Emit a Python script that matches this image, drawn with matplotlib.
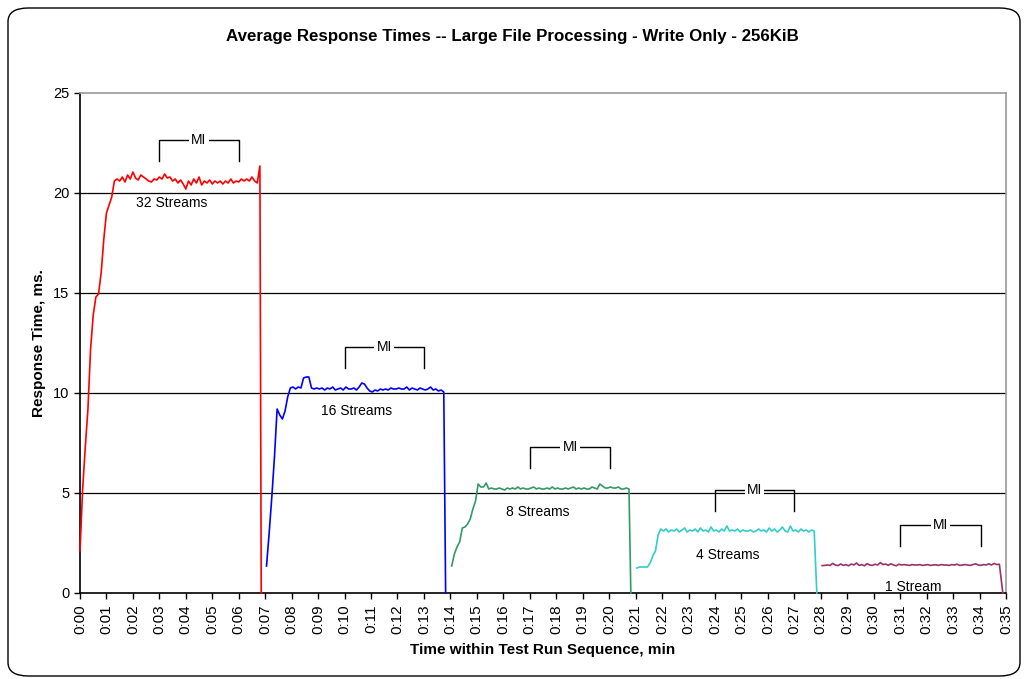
#!/usr/bin/env python3
# Average response times, large file processing, write only, 256KiB.
# Five load levels, each sampled every 0.1 min, dropping to 0 at the end.

import matplotlib

matplotlib.use("Agg")
import matplotlib.pyplot as plt
import numpy as np
from matplotlib.patches import FancyBboxPatch

plt.rcParams["font.family"] = ["Liberation Sans", "DejaVu Sans"]

STEP_MIN = 0.1

# 32 streams
RED_START = 0.0
RED_END = 6.85
RED_VALUES = [
    2.1, 5.2, 7.3, 9.2, 12.2, 13.9, 14.8, 14.95, 16.0, 17.7, 19.0, 19.4, 19.8, 20.6,
    20.7, 20.6, 20.8, 20.55, 20.9, 20.7, 21.05, 20.75, 20.65, 20.9, 20.8, 20.7, 20.6,
    20.55, 20.7, 20.65, 20.8, 20.7, 20.95, 20.75, 20.8, 20.6, 20.7, 20.5, 20.65, 20.45,
    20.2, 20.6, 20.4, 20.7, 20.5, 20.8, 20.4, 20.6, 20.5, 20.65, 20.45, 20.6, 20.5,
    20.6, 20.45, 20.6, 20.5, 20.7, 20.5, 20.6, 20.55, 20.7, 20.6, 20.7, 20.6, 20.8,
    20.6, 20.5, 21.35,
]

# 16 streams
BLUE_START = 7.05
BLUE_END = 13.82
BLUE_VALUES = [
    1.35, 3.0, 4.8, 6.8, 9.2, 8.9, 8.7, 9.1, 9.8, 10.25, 10.3, 10.2, 10.3, 10.25,
    10.75, 10.8, 10.8, 10.25,
    10.2, 10.25, 10.2, 10.25, 10.15, 10.25, 10.2, 10.3, 10.15, 10.2, 10.25, 10.15,
    10.3, 10.2, 10.2, 10.25, 10.15, 10.3, 10.5, 10.45, 10.25, 10.1, 10.05, 10.15,
    10.1, 10.2, 10.15, 10.2, 10.15, 10.25, 10.2, 10.2, 10.25, 10.2, 10.2, 10.3,
    10.15, 10.25, 10.2, 10.15, 10.25, 10.2, 10.15, 10.2, 10.3, 10.15, 10.2, 10.1,
    10.15, 10.05,
]

# 8 streams
GREEN_START = 14.05
GREEN_END = 20.82
GREEN_VALUES = [
    1.35, 1.95, 2.3, 2.55, 3.25, 3.3, 3.45, 3.7, 4.2, 4.6, 5.45, 5.3, 5.3, 5.5, 5.2,
    5.25, 5.2, 5.2, 5.25, 5.2, 5.15, 5.25, 5.2, 5.25, 5.2, 5.3, 5.2, 5.25, 5.2, 5.2,
    5.25, 5.3, 5.2, 5.25, 5.2, 5.2, 5.25, 5.2, 5.3, 5.2, 5.25, 5.2, 5.2, 5.25, 5.2,
    5.25, 5.3, 5.2, 5.25, 5.2, 5.25, 5.2, 5.2, 5.3, 5.25, 5.2, 5.45, 5.35, 5.25,
    5.25, 5.3, 5.25, 5.25, 5.3, 5.2, 5.2, 5.25, 5.2,
]

# 4 streams
CYAN_START = 21.05
CYAN_END = 27.85
CYAN_VALUES = [
    1.25, 1.3, 1.3, 1.3, 1.3, 1.5, 1.85, 2.1, 2.9, 3.2,
    3.1, 3.2, 3.05, 3.15, 3.1, 3.2, 3.05, 3.15, 3.25, 3.05, 3.15, 3.1, 3.2, 3.05,
    3.25, 3.1, 3.15, 3.05, 3.3, 3.1, 3.15, 3.05, 3.2, 3.1, 3.35, 3.1, 3.15, 3.1,
    3.2, 3.05, 3.15, 3.1, 3.1, 3.15, 3.05, 3.1, 3.2, 3.1, 3.15, 3.05, 3.25, 3.1,
    3.2, 3.05, 3.15, 3.3, 3.1, 3.05, 3.35, 3.1, 3.15, 3.05, 3.2, 3.1, 3.15, 3.05,
    3.15, 3.1,
]

# 1 stream
PURPLE_START = 28.05
PURPLE_END = 34.88
PURPLE_VALUES = [
    1.37, 1.38, 1.4, 1.38, 1.48, 1.4, 1.37, 1.45, 1.38, 1.42, 1.36, 1.45, 1.4, 1.5,
    1.38, 1.42, 1.36, 1.47, 1.4, 1.38, 1.44, 1.4, 1.52, 1.42, 1.45, 1.38, 1.46, 1.4,
    1.36, 1.44, 1.4, 1.42, 1.4, 1.38, 1.42, 1.4, 1.4, 1.42, 1.38, 1.4, 1.42, 1.38,
    1.4, 1.41, 1.38, 1.42, 1.4, 1.4, 1.38, 1.42, 1.4, 1.44, 1.38, 1.4, 1.42, 1.4,
    1.38, 1.42, 1.46, 1.4, 1.38, 1.42, 1.4, 1.46, 1.4, 1.48, 1.42, 1.44,
]

SERIES = [
    ("32 Streams", RED_START, RED_END, RED_VALUES, "#FF0000"),
    ("16 Streams", BLUE_START, BLUE_END, BLUE_VALUES, "#0000FF"),
    ("8 Streams", GREEN_START, GREEN_END, GREEN_VALUES, "#339966"),
    ("4 Streams", CYAN_START, CYAN_END, CYAN_VALUES, "#33CCCC"),
    ("1 Stream", PURPLE_START, PURPLE_END, PURPLE_VALUES, "#993366"),
]

# label text position (min, ms)
LABEL_X = [3.48, 10.47, 17.3, 24.5, 31.5]
LABEL_Y = [19.5, 9.1, 4.05, 1.9, 0.3]

# measurement interval brackets: start, end, top
MI_START = [3.0, 10.0, 17.0, 24.0, 31.0]
MI_END = [6.0, 13.0, 20.05, 27.0, 34.05]
MI_TOP = [22.65, 12.3, 7.3, 5.15, 3.4]
MI_LEG = 1.05

XTICK_LABELS = [f"0:{m:02d}" for m in range(36)]

fig = plt.figure(figsize=(10.25, 6.79), dpi=100, facecolor="white")

# rounded outer frame like the spreadsheet chart area
frame = FancyBboxPatch(
    (8 / 1025, 3 / 679), 1012 / 1025, 668 / 679,
    boxstyle="round,pad=0,rounding_size=0.02",
    transform=fig.transFigure, facecolor="none", edgecolor="black", linewidth=1.0,
    zorder=-1,
)
fig.patches.append(frame)

ax = fig.add_axes([80 / 1025, 86 / 679, 926 / 1025, 500 / 679])
ax.set_facecolor("white")

for (name, start, end, values, color), lx, ly in zip(SERIES, LABEL_X, LABEL_Y):
    t = start + STEP_MIN * np.arange(len(values))
    xs = np.append(t, end)
    ys = np.append(np.asarray(values, dtype=float), 0.0)
    ax.plot(xs, ys, color=color, linewidth=1.2, zorder=3, clip_on=False)
    ax.text(lx, ly, name, ha="center", va="center", fontsize=10, zorder=4)

for x0, x1, top in zip(MI_START, MI_END, MI_TOP):
    ax.plot([x0, x0, x1, x1], [top - MI_LEG, top, top, top - MI_LEG],
            color="black", linewidth=1.0, zorder=4)
    ax.text((x0 + x1) / 2, top, "MI", ha="center", va="center", fontsize=10,
            zorder=5, bbox={"facecolor": "white", "edgecolor": "none", "pad": 1.5})

ax.set_xlim(0, 35)
ax.set_ylim(0, 25)
ax.set_yticks(range(0, 26, 5))
ax.set_xticks(range(36))
ax.set_xticklabels(XTICK_LABELS, rotation=90, fontsize=11)
ax.tick_params(axis="y", labelsize=10.5, direction="out", length=4, width=1)
ax.tick_params(axis="x", direction="out", length=4, width=1, pad=4)

for yv in range(5, 25, 5):
    ax.axhline(yv, color="black", linewidth=0.9, zorder=1)

ax.spines["left"].set_color("black")
ax.spines["bottom"].set_color("black")
ax.spines["top"].set_color("#999999")
ax.spines["right"].set_color("#999999")
for s in ax.spines.values():
    s.set_linewidth(1.2)

ax.set_xlabel("Time within Test Run Sequence, min", fontsize=11, fontweight="bold", labelpad=7)
ax.set_ylabel("Response Time, ms.", fontsize=11, fontweight="bold", labelpad=5)
fig.text(0.5, 1 - 36 / 679, "Average Response Times -- Large File Processing - Write Only - 256KiB",
         ha="center", va="center", fontsize=12.2, fontweight="bold")

fig.savefig("out.png", dpi=100)
